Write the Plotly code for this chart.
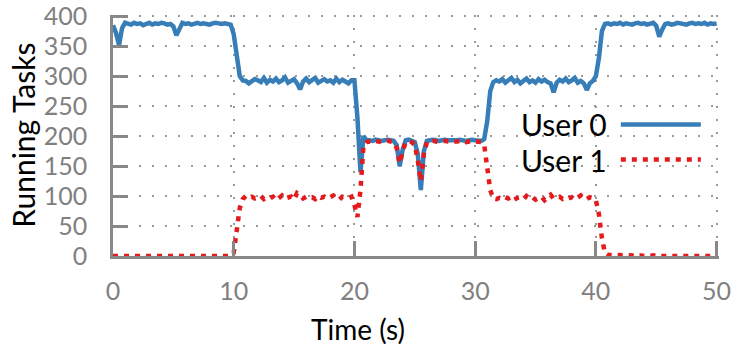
import numpy as np
import plotly.graph_objects as go

time_s = np.round(np.arange(0, 50.0001, 0.25), 2)

user0 = [
    385, 372, 352, 380, 389,
    388, 386, 389, 387, 388, 385, 387, 389, 386, 388, 387, 389, 388, 386, 387,
    383, 368, 380, 389,
    387, 388, 386, 388, 389, 387, 388, 387, 386, 388, 389, 388, 387, 388, 387,
    386, 370, 330, 300, 293, 292,
    288, 291, 295, 293, 290, 297, 289, 294, 291, 296, 290, 293, 298, 289, 292, 295,
    288, 278, 291, 296, 290, 294, 297, 289, 292, 295, 291, 293, 289, 296, 290, 294, 291, 288, 293,
    293, 230, 140, 200, 193,
    193, 192, 194, 193, 192, 193, 194, 193, 192,
    185, 150, 178, 193, 194, 192, 190, 170, 110, 175, 192,
    193, 194, 193, 192, 193, 194, 193, 193, 192, 193, 194, 193, 192, 193, 194, 193, 193, 192,
    195, 225, 275, 290, 293,
    291, 295, 289, 293, 297, 290, 294, 288, 292, 296, 290, 293, 289, 295, 291, 294,
    290, 288, 273, 289, 294, 291, 296, 290, 293, 297, 289, 292, 288, 277, 288, 292,
    300, 330, 375, 387, 388,
    386, 388, 387, 389, 386, 388, 387, 386, 388, 389, 387, 388, 386, 387, 389,
    384, 366, 378, 387,
    388, 386, 387, 389, 388, 387, 386, 388, 389, 387, 388, 387, 389, 386, 388, 387, 388,
]

user1 = [
    0, 0, 0, 0, 0, 0, 0, 0, 0, 0, 0, 0, 0, 0, 0, 0, 0, 0, 0, 0,
    0, 0, 0, 0, 0, 0, 0, 0, 0, 0, 0, 0, 0, 0, 0, 0, 0, 0, 0, 0,
    5, 40, 80, 95, 100,
    97, 99, 96, 98, 100, 95, 98, 97, 99, 93, 98, 101, 96, 97, 99, 94, 105, 102, 96, 99,
    97, 98, 95, 100, 97, 99, 96, 98, 101, 97, 94, 99, 98, 97, 99,
    85, 65, 110, 185, 190,
    191, 190, 192, 191, 190, 191, 192, 191, 190,
    180, 155, 175, 190, 191, 190, 185, 160, 125, 170, 190,
    191, 192, 191, 190, 191, 192, 191, 191, 190, 191, 192, 191, 190, 191, 192, 191, 191, 190,
    185, 150, 110, 96, 95,
    97, 95, 98, 96, 99, 94, 97, 98, 95, 100, 96, 98, 94, 97, 99, 93,
    97, 102, 96, 98, 99, 95, 97, 96, 98, 94, 97, 101, 96, 95, 98, 97,
    93, 70, 30, 5, 2,
    2, 1, 2, 1, 1, 2, 1, 1, 0, 1, 1, 0, 1, 0, 1, 0, 0, 1,
    0, 0, 1, 0, 0, 0, 1, 0, 0, 0, 0, 0, 0, 0, 0, 0, 0, 0,
]

series_names = ["User 0", "User 1"]
x_ticks = [0, 10, 20, 30, 40, 50]
y_ticks = [0, 50, 100, 150, 200, 250, 300, 350, 400]

assert len(user0) == len(time_s), len(user0)
assert len(user1) == len(time_s), len(user1)

BLUE = "#377eb8"
RED = "#e41a1c"
FONT = "Lato"

fig = go.Figure()
fig.add_trace(go.Scatter(x=time_s, y=user0, mode="lines", name=series_names[0],
                         line=dict(color=BLUE, width=4.5), showlegend=False))
fig.add_trace(go.Scatter(x=time_s, y=user1, mode="lines", name=series_names[1],
                         line=dict(color=RED, width=4.5, dash="5px,6px"), showlegend=False))

axis_common = dict(
    showline=True, linecolor="#888888", linewidth=2.5,
    ticks="inside", ticklen=15, tickwidth=2.5, tickcolor="#888888",
    showgrid=True, gridcolor="#999999", gridwidth=2, griddash="2px,11px",
    zeroline=False, automargin=False, ticklabeloverflow="allow",
    tickfont=dict(family=FONT, size=25, color="#808080"),
)

fig.update_xaxes(range=[0, 50.2], tickvals=x_ticks, ticklabelstandoff=11, **axis_common)
fig.update_yaxes(range=[0, 402], tickvals=y_ticks, ticklabelstandoff=18, **axis_common)

# Axis titles
fig.add_annotation(text="Time (s)", xref="paper", yref="paper", x=0.404, y=-0.304,
                   showarrow=False, yanchor="middle",
                   font=dict(family=FONT, size=28, color="black"))
fig.add_annotation(text="Running Tasks", xref="paper", yref="paper", x=-0.149, y=0.502,
                   textangle=-90, showarrow=False, xanchor="center", yanchor="middle",
                   font=dict(family=FONT, size=30, color="black"))

# Legend (text left of key, like the original)
legend_rows = [(0.546, BLUE, None), (0.40, RED, "5px,6px")]
for name, (yy, col, dsh) in zip(series_names, legend_rows):
    fig.add_annotation(text=name, xref="paper", yref="paper", x=0.818, y=yy,
                       xanchor="right", yanchor="middle", showarrow=False,
                       font=dict(family=FONT, size=30, color="black"))
    line = dict(color=col, width=4.5)
    if dsh:
        line["dash"] = dsh
    fig.add_shape(type="line", xref="paper", yref="paper", x0=0.838, x1=0.97,
                  y0=yy, y1=yy, line=line)

fig.update_layout(
    width=738, height=347,
    margin=dict(l=113, r=19, t=15, b=91),
    plot_bgcolor="white", paper_bgcolor="white",
    font=dict(family=FONT),
)

fig.write_html("out.html", config={"displayModeBar": False},
               post_script="document.body.style.margin='0';")
